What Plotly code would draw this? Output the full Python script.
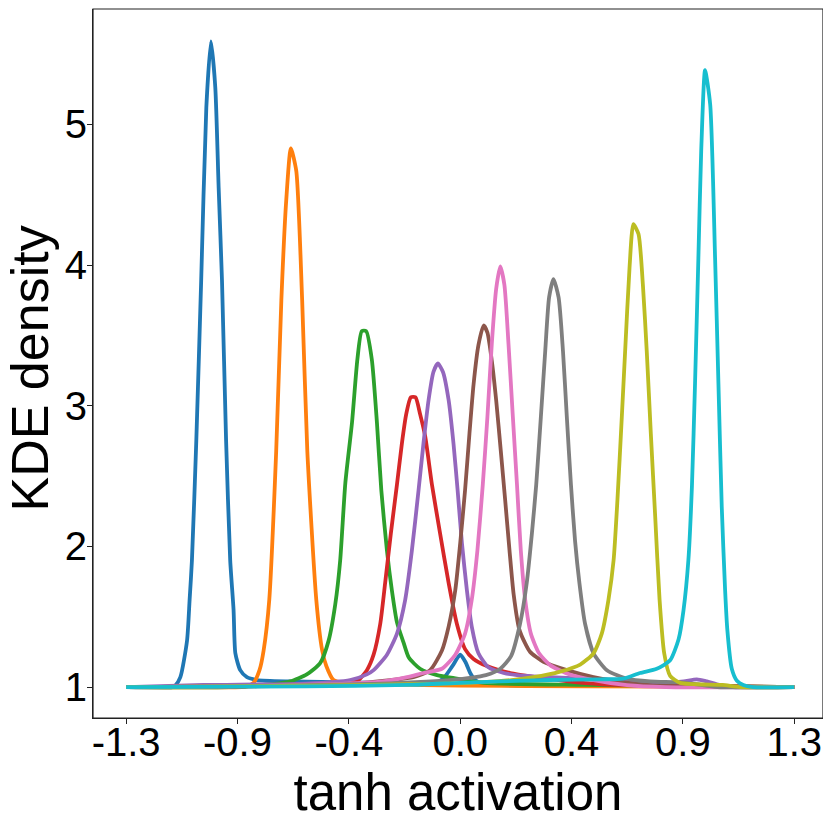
import plotly.graph_objects as go

# KDE curves of tanh activations, one per unit
blue_x = [-1.30, -1.12, -1.109, -1.089, -1.063, -1.053, -1.044, -1.027, -1.008, -0.988, -0.970,
          -0.953, -0.940, -0.927, -0.911, -0.895, -0.882, -0.875, -0.856, -0.830, -0.791, -0.661,
          -0.30, -0.10, -0.066, -0.03, 0.0, 0.02, 0.039, 0.058, 0.10, 0.50, 1.30]
blue_y = [1.00, 1.00, 1.01, 1.07, 1.33, 1.62, 1.90, 2.75, 3.89, 5.12, 5.59,
          5.26, 4.55, 3.89, 2.75, 1.90, 1.55, 1.24, 1.12, 1.07, 1.05, 1.04,
          1.03, 1.03, 1.06, 1.15, 1.23, 1.18, 1.10, 1.05, 1.02, 1.01, 1.00]

orange_x = [-1.30, -0.85, -0.83, -0.804, -0.781, -0.765, -0.743, -0.716, -0.696, -0.677, -0.659,
            -0.638, -0.615, -0.595, -0.560, -0.537, -0.521, -0.493, -0.454, -0.30, 0.0, 0.50, 1.30]
orange_y = [1.00, 1.00, 1.005, 1.03, 1.12, 1.26, 1.62, 2.68, 3.75, 4.46, 4.83,
            4.67, 3.75, 2.68, 1.62, 1.26, 1.15, 1.05, 1.03, 1.02, 1.01, 1.005, 1.00]

green_x = [-1.30, -0.90, -0.805, -0.726, -0.661, -0.597, -0.545, -0.512, -0.486, -0.467, -0.447,
           -0.421, -0.400, -0.383, -0.366, -0.344, -0.324, -0.307, -0.285, -0.266, -0.246, -0.221,
           -0.200, -0.156, -0.09, -0.013, 0.09, 0.48, 1.30]
green_y = [1.00, 1.00, 1.01, 1.02, 1.04, 1.09, 1.17, 1.33, 1.59, 1.90, 2.45,
           2.88, 3.33, 3.53, 3.53, 3.33, 2.88, 2.40, 1.97, 1.69, 1.46, 1.32,
           1.21, 1.13, 1.085, 1.06, 1.03, 1.015, 1.00]

red_x = [-1.30, -0.90, -0.60, -0.441, -0.396, -0.363, -0.337, -0.311, -0.292, -0.270, -0.246,
         -0.227, -0.210, -0.192, -0.174, -0.156, -0.136, -0.110, -0.078, -0.045, -0.013, 0.019,
         0.052, 0.104, 0.195, 0.298, 0.42, 0.55, 0.80, 1.30]
red_y = [1.00, 1.00, 1.02, 1.03, 1.05, 1.12, 1.23, 1.45, 1.74, 2.09, 2.44,
         2.73, 2.94, 3.06, 3.06, 2.94, 2.78, 2.44, 2.09, 1.74, 1.45, 1.27,
         1.20, 1.15, 1.10, 1.07, 1.04, 1.02, 1.01, 1.00]

purple_x = [-1.30, -1.00, -0.60, -0.428, -0.363, -0.337, -0.285, -0.246, -0.214, -0.188, -0.162,
            -0.143, -0.123, -0.104, -0.087, -0.067, -0.045, -0.026, -0.010, 0.007, 0.026, 0.045,
            0.071, 0.110, 0.169, 0.221, 0.350, 0.610, 0.804, 0.87, 0.921, 0.96, 0.999, 1.062, 1.30]
purple_y = [1.00, 1.015, 1.025, 1.05, 1.09, 1.12, 1.23, 1.38, 1.62, 1.97, 2.40,
            2.73, 3.04, 3.24, 3.30, 3.24, 3.04, 2.73, 2.40, 2.02, 1.69, 1.43,
            1.24, 1.14, 1.10, 1.085, 1.07, 1.05, 1.03, 1.04, 1.055, 1.04, 1.02, 1.00, 1.00]

brown_x = [-1.30, -0.80, -0.45, -0.272, -0.182, -0.117, -0.071, -0.045, -0.019, 0.000, 0.019,
           0.036, 0.052, 0.071, 0.091, 0.106, 0.123, 0.140, 0.158, 0.175, 0.192, 0.208,
           0.230, 0.253, 0.272, 0.324, 0.415, 0.519, 0.610, 0.739, 0.90, 1.30]
brown_y = [1.00, 1.005, 1.02, 1.05, 1.07, 1.12, 1.26, 1.43, 1.69, 2.02, 2.40,
           2.80, 3.15, 3.43, 3.57, 3.52, 3.32, 3.04, 2.68, 2.33, 1.97, 1.66,
           1.41, 1.31, 1.25, 1.18, 1.12, 1.07, 1.04, 1.014, 1.005, 1.00]

pink_x = [-1.30, -0.90, -0.50, -0.30, -0.207, -0.143, -0.071, -0.019, 0.019, 0.045, 0.067,
          0.088, 0.106, 0.123, 0.140, 0.156, 0.172, 0.188, 0.205, 0.221, 0.236, 0.253,
          0.275, 0.307, 0.350, 0.415, 0.519, 0.649, 0.80, 1.30]
pink_y = [1.00, 1.005, 1.02, 1.04, 1.07, 1.10, 1.13, 1.23, 1.38, 1.62, 1.97,
          2.44, 2.92, 3.44, 3.83, 3.99, 3.86, 3.44, 2.92, 2.44, 1.97, 1.62,
          1.38, 1.24, 1.156, 1.097, 1.05, 1.014, 1.00, 1.00]

gray_x = [-1.30, -0.90, -0.40, -0.04, 0.10, 0.156, 0.198, 0.233, 0.259, 0.279, 0.296,
          0.314, 0.331, 0.346, 0.363, 0.383, 0.400, 0.415, 0.431, 0.447, 0.464, 0.486,
          0.519, 0.571, 0.649, 0.739, 0.856, 0.92, 1.00, 1.30]
gray_y = [1.00, 1.005, 1.02, 1.05, 1.085, 1.13, 1.22, 1.45, 1.74, 2.09, 2.44,
          2.92, 3.39, 3.77, 3.90, 3.77, 3.39, 2.92, 2.44, 2.04, 1.74, 1.45,
          1.24, 1.12, 1.06, 1.04, 1.033, 1.02, 1.00, 1.00]

olive_x = [-1.30, -0.60, -0.20, 0.04, 0.20, 0.285, 0.389, 0.467, 0.519, 0.551, 0.577,
           0.597, 0.612, 0.629, 0.642, 0.659, 0.674, 0.694, 0.711, 0.726, 0.742, 0.759,
           0.776, 0.794, 0.817, 0.856, 1.02, 1.09, 1.30]
olive_y = [1.00, 1.01, 1.02, 1.03, 1.05, 1.07, 1.11, 1.16, 1.24, 1.38, 1.62,
           1.90, 2.33, 2.92, 3.39, 3.98, 4.29, 4.22, 3.86, 3.39, 2.80, 2.21,
           1.62, 1.24, 1.08, 1.03, 1.015, 1.00, 1.00]

cyan_x = [-1.30, -0.60, -0.20, 0.00, 0.156, 0.35, 0.545, 0.635, 0.700, 0.765, 0.817,
          0.850, 0.869, 0.888, 0.902, 0.914, 0.927, 0.938, 0.953, 0.973, 0.992, 1.005,
          1.018, 1.031, 1.040, 1.057, 1.077, 1.102, 1.14, 1.30]
cyan_y = [1.00, 1.005, 1.015, 1.03, 1.04, 1.05, 1.055, 1.06, 1.10, 1.13, 1.19,
          1.34, 1.545, 1.90, 2.43, 3.16, 4.05, 4.81, 5.385, 5.14, 4.05, 3.16,
          2.28, 1.69, 1.40, 1.13, 1.045, 1.015, 1.00, 1.00]

curves = [
    (blue_x, blue_y, "#1f77b4"),
    (orange_x, orange_y, "#ff7f0e"),
    (green_x, green_y, "#2ca02c"),
    (red_x, red_y, "#d62728"),
    (purple_x, purple_y, "#9467bd"),
    (brown_x, brown_y, "#8c564b"),
    (pink_x, pink_y, "#e377c2"),
    (gray_x, gray_y, "#7f7f7f"),
    (olive_x, olive_y, "#bcbd22"),
    (cyan_x, cyan_y, "#17becf"),
]

x_ticks = [-1.3, -0.8667, -0.4333, 0.0, 0.4333, 0.8667, 1.3]
x_tick_text = ["-1.3", "-0.9", "-0.4", "0.0", "0.4", "0.9", "1.3"]
y_ticks = [1, 2, 3, 4, 5]

FONT = "Liberation Sans, Arial, sans-serif"

fig = go.Figure()
for xs, ys, col in curves:
    fig.add_trace(go.Scatter(x=xs, y=ys, mode="lines",
                             line=dict(color=col, width=3.8, shape="spline", smoothing=0.6),
                             showlegend=False, hoverinfo="skip"))

axis_style = dict(showgrid=False, zeroline=False, showline=True, automargin=False,
                  linecolor="#222", linewidth=1.2, ticks="outside", ticklen=5,
                  tickcolor="#222", tickfont=dict(family=FONT, size=40, color="black"))

# the page body adds an 8px margin, so the figure is sized 823 and offset accordingly
fig.update_layout(
    width=823, height=823,
    margin=dict(l=85, r=8, t=1, b=113),
    paper_bgcolor="white", plot_bgcolor="white",
    xaxis=dict(range=[-1.429, 1.412], tickvals=x_ticks, ticktext=x_tick_text,
               ticklabelstandoff=-16,
               title=dict(text="tanh activation", font=dict(family=FONT, size=51, color="black"),
                          standoff=0),
               **axis_style),
    yaxis=dict(range=[0.78, 5.82], tickvals=y_ticks, ticklabelstandoff=-8, **axis_style),
    # full box around the axes
    shapes=[dict(type="rect", xref="paper", yref="paper", x0=0, x1=1, y0=0, y1=1,
                 line=dict(color="#222", width=1.2), layer="above")],
    # y title as a rotated annotation so it sits clear of the tick labels
    annotations=[dict(text="KDE density", xref="paper", yref="paper", x=0, y=0.5,
                      xanchor="center", yanchor="middle", xshift=-64, yshift=-5,
                      textangle=-90, showarrow=False,
                      font=dict(family=FONT, size=52, color="black"))],
)

fig.write_html("out.html")
